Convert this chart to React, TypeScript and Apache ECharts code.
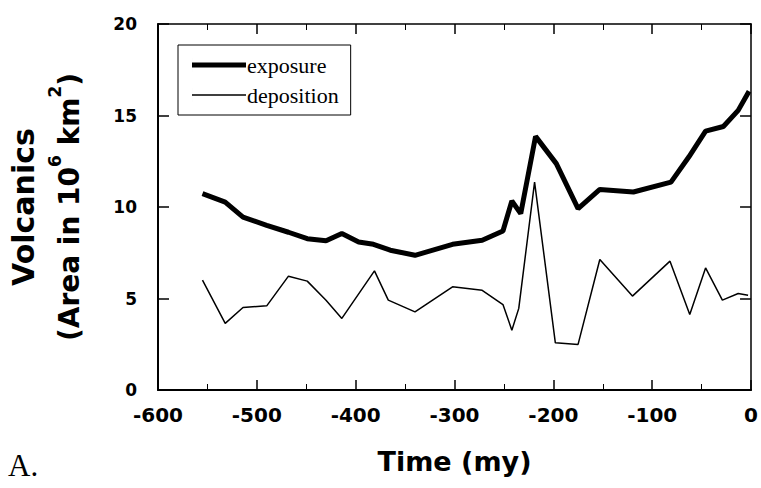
import React, { useEffect, useRef } from "react";
import * as echarts from "echarts";

const expTime = [-555, -532, -514, -490, -468, -449, -430, -414, -397, -382, -365, -340, -302, -272, -251, -242, -233, -218, -197, -175, -153, -119, -81, -63, -46, -28, -13, -2];
const expArea = [10.73, 10.27, 9.45, 9.0, 8.62, 8.27, 8.15, 8.55, 8.09, 7.96, 7.64, 7.36, 7.96, 8.18, 8.69, 10.33, 9.64, 13.86, 12.37, 9.91, 10.96, 10.82, 11.36, 12.73, 14.15, 14.4, 15.28, 16.33];

const depTime = [-555, -532, -514, -490, -468, -449, -430, -414, -381, -367, -340, -302, -272, -251, -242, -235, -219, -198, -175, -153, -120, -82, -62, -46, -29, -13, -3];
const depArea = [6.0, 3.64, 4.51, 4.6, 6.22, 5.95, 4.9, 3.91, 6.51, 4.91, 4.27, 5.64, 5.45, 4.67, 3.27, 4.46, 11.36, 2.58, 2.49, 7.13, 5.13, 7.04, 4.13, 6.67, 4.91, 5.27, 5.18];

const seriesNames = ["exposure", "deposition"];
const xTitle = "Time (my)";
const panelLabel = "A.";

export default function App() {
  const ref = useRef<HTMLDivElement>(null);
  useEffect(() => {
    if (!ref.current) return;
    const chart = echarts.init(ref.current, null, { renderer: "svg" });
    const tickFont = { fontFamily: "DejaVu Sans", fontWeight: "bold" as const, color: "#000" };
    const xCommon = {
      type: "value" as const,
      min: -600,
      max: 0,
      interval: 100,
      splitLine: { show: false },
      axisLine: { onZero: false, lineStyle: { color: "#000", width: 2 } },
      axisTick: { inside: true, length: 10, lineStyle: { color: "#000", width: 1.5 } },
      minorTick: { show: true, splitNumber: 2, length: 6, lineStyle: { color: "#000", width: 1 } },
    };
    const yCommon = {
      type: "value" as const,
      min: 0,
      max: 20,
      interval: 5,
      splitLine: { show: false },
      axisLine: { onZero: false, lineStyle: { color: "#000", width: 2 } },
      axisTick: { inside: true, length: 11, lineStyle: { color: "#000", width: 1.5 } },
    };
    const thickIcon = "path://M0,0h0.01v14h-0.01z M0,4.5h54v5h-54z";
    const thinIcon = "path://M0,0h0.01v14h-0.01z M0,6.2h54v1.6h-54z";
    chart.setOption({
      animation: false,
      backgroundColor: "#fff",
      grid: { left: 154, right: 7, top: 24, bottom: 98 },
      legend: {
        orient: "vertical",
        left: 178,
        top: 45,
        data: [
          { name: seriesNames[0], icon: thickIcon },
          { name: seriesNames[1], icon: thinIcon },
        ],
        backgroundColor: "#fff",
        borderColor: "#000",
        borderWidth: 1,
        borderRadius: 0,
        padding: [9, 12, 9, 14],
        itemWidth: 54,
        itemHeight: 14,
        itemGap: 8,
        selectedMode: false,
        itemStyle: { color: "#000", borderWidth: 0 },
        lineStyle: { width: 0 },
        textStyle: { fontFamily: "Liberation Serif", fontSize: 22, color: "#000", padding: [0, 0, 0, -4] },
      },
      xAxis: [
        {
          ...xCommon,
          position: "bottom",
          axisLabel: { ...tickFont, fontSize: 20, margin: 15 },
          name: xTitle,
          nameLocation: "middle",
          nameGap: 58,
          nameTextStyle: { fontFamily: "DejaVu Sans", fontWeight: "bold", fontSize: 27, color: "#000" },
        },
        {
          ...xCommon,
          position: "top",
          axisLabel: { show: false },
          axisLine: { onZero: false, lineStyle: { color: "#000", width: 1.5 } },
        },
      ],
      yAxis: [
        {
          ...yCommon,
          position: "left",
          axisLabel: { ...tickFont, fontSize: 17, margin: 21 },
          name: "{v|Volcanics}\n{a|(Area in 10}{s|6}{a| km}{s|2}{a|)}",
          nameLocation: "middle",
          nameRotate: 90,
          nameGap: 66,
          nameTextStyle: {
            rich: {
              v: { fontFamily: "DejaVu Sans", fontWeight: "bold", fontSize: 30, color: "#000", lineHeight: 46 },
              a: { fontFamily: "DejaVu Sans", fontWeight: "bold", fontSize: 28, color: "#000", lineHeight: 46 },
              s: { fontFamily: "DejaVu Sans", fontWeight: "bold", fontSize: 17, color: "#000", lineHeight: 30, verticalAlign: "top" },
            },
          },
        },
        {
          ...yCommon,
          position: "right",
          axisLabel: { show: false },
          axisLine: { onZero: false, lineStyle: { color: "#000", width: 1.5 } },
        },
      ],
      series: [
        {
          name: seriesNames[0],
          type: "line",
          xAxisIndex: 0,
          yAxisIndex: 0,
          symbol: "none",
          lineStyle: { color: "#000", width: 5 },
          itemStyle: { color: "#000" },
          data: expTime.map((t, i) => [t, expArea[i]]),
        },
        {
          name: seriesNames[1],
          type: "line",
          xAxisIndex: 0,
          yAxisIndex: 0,
          symbol: "none",
          lineStyle: { color: "#000", width: 1.5 },
          itemStyle: { color: "#000" },
          data: depTime.map((t, i) => [t, depArea[i]]),
        },
      ],
      graphic: [
        {
          type: "text",
          left: 8,
          top: 450,
          style: { text: panelLabel, fontFamily: "Liberation Serif", fontSize: 31, fill: "#000" },
        },
      ],
    });
    return () => chart.dispose();
  }, []);
  return (
    <div
      ref={ref}
      style={{ position: "absolute", left: 0, top: 0, width: 761, height: 488 }}
    />
  );
}
